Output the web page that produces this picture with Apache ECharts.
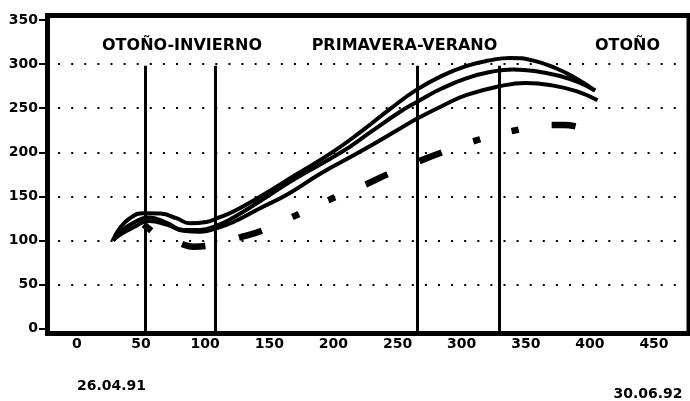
<!DOCTYPE html>
<html>
<head>
<meta charset="utf-8">
<script src="https://cdn.jsdelivr.net/npm/echarts@6/dist/echarts.min.js"></script>
<style>
html,body{margin:0;padding:0;background:#fff;}
#c{width:690px;height:401px;}
</style>
</head>
<body>
<div id="c"></div>
<script>
// ---- data ----
const xTicks = [0, 50, 100, 150, 200, 250, 300, 350, 400, 450];
const yTicks = [0, 50, 100, 150, 200, 250, 300, 350];
const gridValues = [50, 100, 150, 200, 250, 300];
const seasonLines = [53, 107.5, 265.5, 329];
const seasonTop = 298;
const seasonNames = ['OTOÑO-INVIERNO', 'PRIMAVERA-VERANO', 'OTOÑO'];
const dateLabels = ['26.04.91', '30.06.92'];

const curveA = [[28,100],[33,113],[41,125],[52,131],[65,130.5],[78,125],[88,119.5],[101,121],[109,125],[122,133],[142,149],[170,174],[199,200],[222,224],[244,249],[265,271],[285,287],[304,298],[321,304],[338,307],[356,304],[374,295],[390,283],[404,270]];
const curveB = [[28,100],[34,110],[44,120],[56,126],[70,120],[83,112],[96,112],[109,117],[122,126],[142,144],[170,170],[206,200],[230,224],[252,246],[265,257],[284,272],[304,284],[322,291],[340,294],[358,292],[378,286],[392,279],[404,270]];
const curveC = [[28,100],[34,107],[44,115],[56,122],[70,118],[83,111],[96,110],[109,114],[122,121],[142,136],[165,153],[190,176],[220,200],[252,227],[265,238],[284,252],[304,265],[330,275],[350,278.5],[370,276],[390,269],[406,259]];
const curveD = [[52,118],[58,111],[82,96],[91,93],[101,94],[127,103.5],[145,111.5],[171,128.7],[199,147.7],[226,164],[242,175],[267,190],[285,200],[312,213.7],[342,225],[370,231],[380,231],[390,229]];

// ---- chart ----
const FONT = '"DejaVu Sans", sans-serif';
const chart = echarts.init(document.getElementById('c'), null, {renderer: 'canvas'});

const solid = (data) => ({
  type: 'line', data: data, smooth: 0.5, showSymbol: false, symbol: 'none',
  lineStyle: {color: '#000', width: 4}, z: 3, silent: true
});

const option = {
  animation: false,
  backgroundColor: '#fff',
  grid: {left: 47.5, top: 15.5, right: 1, bottom: 67.5, show: true,
         borderColor: '#000', borderWidth: 5, backgroundColor: 'transparent', containLabel: false},
  xAxis: {
    type: 'value', min: -23, max: 477.3,
    axisLine: {show: false, onZero: false}, axisTick: {show: false}, splitLine: {show: false},
    axisLabel: {customValues: xTicks, margin: 4, color: '#000', fontFamily: FONT, fontWeight: 'bold', fontSize: 14}
  },
  yAxis: {
    type: 'value', min: -5.4, max: 355.1,
    axisLine: {show: false, onZero: false},
    axisTick: {show: true, customValues: yTicks, length: 8.5, lineStyle: {color: '#000', width: 2}},
    splitLine: {show: false},
    axisLabel: {customValues: yTicks, margin: 9.5, color: '#000', fontFamily: FONT, fontWeight: 'bold', fontSize: 14}
  },
  graphic: [
    {type: 'text', style: {text: seasonNames[0], x: 182, y: 46, align: 'center', verticalAlign: 'middle', fontFamily: FONT, fontWeight: 'bold', fontSize: 16, fill: '#000'}},
    {type: 'text', style: {text: seasonNames[1], x: 404.5, y: 46, align: 'center', verticalAlign: 'middle', fontFamily: FONT, fontWeight: 'bold', fontSize: 16, fill: '#000'}},
    {type: 'text', style: {text: seasonNames[2], x: 627.5, y: 46, align: 'center', verticalAlign: 'middle', fontFamily: FONT, fontWeight: 'bold', fontSize: 16, fill: '#000'}},
    {type: 'text', style: {text: dateLabels[0], x: 111.5, y: 386, align: 'center', verticalAlign: 'middle', fontFamily: FONT, fontWeight: 'bold', fontSize: 14, fill: '#000'}},
    {type: 'text', style: {text: dateLabels[1], x: 648, y: 394, align: 'center', verticalAlign: 'middle', fontFamily: FONT, fontWeight: 'bold', fontSize: 14, fill: '#000'}}
  ],
  series: [
    {
      type: 'line', data: [], z: 1, silent: true,
      markLine: {
        silent: true, symbol: ['none', 'none'], label: {show: false},
        lineStyle: {color: '#000', width: 2, type: [2, 11.1], dashOffset: 2.5},
        emphasis: {disabled: true},
        data: gridValues.map(v => ({yAxis: v}))
      }
    },
    {
      type: 'line', data: [], z: 2, silent: true,
      markLine: {
        silent: true, symbol: ['none', 'none'], label: {show: false},
        lineStyle: {color: '#000', width: 3, type: 'solid'},
        emphasis: {disabled: true},
        data: seasonLines.map(x => [{coord: [x, -5.4]}, {coord: [x, seasonTop]}])
      }
    },
    solid(curveA),
    solid(curveB),
    solid(curveC),
    {
      type: 'line', data: curveD.slice(0, 2), smooth: 0.5, showSymbol: false, symbol: 'none',
      lineStyle: {color: '#000', width: 6.5}, z: 3, silent: true
    },
    {
      type: 'line', data: curveD.slice(1), smooth: 0.5, showSymbol: false, symbol: 'none',
      lineStyle: {color: '#000', width: 6.5, type: [24, 34.5, 24, 33.5, 7, 32.7, 7, 33.5], dashOffset: 162.8},
      z: 3, silent: true
    }
  ]
};
chart.setOption(option);
</script>
</body>
</html>
